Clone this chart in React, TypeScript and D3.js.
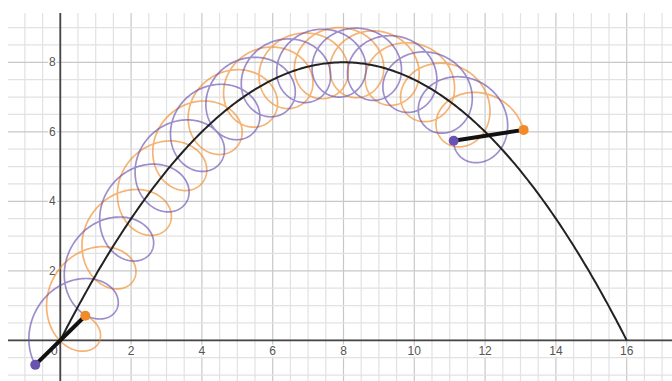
import React from "react";
import * as d3 from "d3";

// Centre of the spinning baton follows a parabola with roots at 0 and LAUNCH_RANGE
const LAUNCH_RANGE = 16;
const APEX_HEIGHT = 8;
// Baton: half-length, turns per unit of horizontal travel, starting angle (deg)
const HALF_LENGTH = 1;
const TURNS_PER_UNIT = 1;
const START_ANGLE_DEG = 45;
// Horizontal position of the centre at the captured instant
const FLIGHT_END = 12.1;

const xTicks = [2, 4, 6, 8, 10, 12, 14, 16];
const yTicks = [2, 4, 6, 8];
const MINOR_STEP = 0.5;

const W = 672;
const H = 381;

const ORANGE = "#f08a2a";
const PURPLE = "#6a52b0";

const centreY = (x: number) =>
  APEX_HEIGHT - (APEX_HEIGHT / (LAUNCH_RANGE / 2) ** 2) * (x - LAUNCH_RANGE / 2) ** 2;

const angleAt = (t: number) =>
  (START_ANGLE_DEG * Math.PI) / 180 - 2 * Math.PI * TURNS_PER_UNIT * t;

type Pt = [number, number];

function endPoint(t: number, sign: number): Pt {
  const a = angleAt(t);
  return [t + sign * HALF_LENGTH * Math.cos(a), centreY(t) + sign * HALF_LENGTH * Math.sin(a)];
}

export default function App() {
  const x = d3.scaleLinear().domain([0, 16]).range([60.3, 626.7]);
  const y = d3.scaleLinear().domain([0, 8]).range([340.3, 62.3]);

  const left = 8;
  const top = 13;
  const xMin = x.invert(left);
  const xMax = x.invert(W);
  const yMax = y.invert(top);
  const yMin = y.invert(H);

  const minorX = d3.range(Math.ceil(xMin / MINOR_STEP) * MINOR_STEP, xMax, MINOR_STEP);
  const minorY = d3.range(Math.ceil(yMin / MINOR_STEP) * MINOR_STEP, yMax, MINOR_STEP);
  const isMajor = (v: number) => Math.abs(v / 2 - Math.round(v / 2)) < 1e-6;

  const line = d3
    .line<Pt>()
    .x((d) => x(d[0]))
    .y((d) => y(d[1]));

  const ts = d3.range(0, FLIGHT_END + 1e-9, 0.004);
  const orangePath = ts.map((t) => endPoint(t, 1));
  const purplePath = ts.map((t) => endPoint(t, -1));
  const parabola: Pt[] = d3.range(0, LAUNCH_RANGE + 1e-9, 0.05).map((v) => [v, centreY(v)]);

  const oEnd = endPoint(FLIGHT_END, 1);
  const pEnd = endPoint(FLIGHT_END, -1);
  const oStart = endPoint(0, 1);
  const pStart = endPoint(0, -1);

  const labelStyle: React.CSSProperties = {
    fontFamily: "'Liberation Sans', Arial, sans-serif",
    fontSize: 12,
    fill: "#555",
    stroke: "#fff",
    strokeWidth: 3,
    paintOrder: "stroke",
  };

  return (
    <svg
      width={W}
      height={H}
      style={{ position: "fixed", left: 0, top: 0, background: "#fff" }}
    >
      <g>
        {minorX.map((v) => (
          <line
            key={"gx" + v}
            x1={x(v)}
            x2={x(v)}
            y1={top}
            y2={H}
            stroke={isMajor(v) ? "#c8c8c8" : "#e2e2e2"}
            strokeWidth={1.2}
          />
        ))}
        {minorY.map((v) => (
          <line
            key={"gy" + v}
            x1={left}
            x2={W}
            y1={y(v)}
            y2={y(v)}
            stroke={isMajor(v) ? "#c8c8c8" : "#e2e2e2"}
            strokeWidth={1.2}
          />
        ))}
      </g>
      <line x1={left} x2={W} y1={y(0)} y2={y(0)} stroke="#444" strokeWidth={1.8} />
      <line x1={x(0)} x2={x(0)} y1={top} y2={H} stroke="#444" strokeWidth={1.8} />

      {xTicks.map((v) => (
        <text key={"tx" + v} x={x(v)} y={y(0) + 15} textAnchor="middle" style={labelStyle}>
          {v}
        </text>
      ))}
      <text x={x(0) - 6} y={y(0) + 15} textAnchor="middle" style={labelStyle}>
        0
      </text>
      {yTicks.map((v) => (
        <text key={"ty" + v} x={x(0) - 8} y={y(v) + 4} textAnchor="middle" style={labelStyle}>
          {v}
        </text>
      ))}

      <path d={line(orangePath) ?? ""} fill="none" stroke={ORANGE} strokeOpacity={0.65} strokeWidth={1.7} />
      <path d={line(purplePath) ?? ""} fill="none" stroke={PURPLE} strokeOpacity={0.65} strokeWidth={1.7} />
      <path d={line(parabola) ?? ""} fill="none" stroke="#222" strokeWidth={2} />

      <line x1={x(pStart[0])} y1={y(pStart[1])} x2={x(oStart[0])} y2={y(oStart[1])} stroke="#111" strokeWidth={4} />
      <line x1={x(pEnd[0])} y1={y(pEnd[1])} x2={x(oEnd[0])} y2={y(oEnd[1])} stroke="#111" strokeWidth={4} />

      <circle cx={x(oStart[0])} cy={y(oStart[1])} r={5} fill={ORANGE} />
      <circle cx={x(pStart[0])} cy={y(pStart[1])} r={5} fill={PURPLE} />
      <circle cx={x(oEnd[0])} cy={y(oEnd[1])} r={5} fill={ORANGE} />
      <circle cx={x(pEnd[0])} cy={y(pEnd[1])} r={5} fill={PURPLE} />
    </svg>
  );
}
